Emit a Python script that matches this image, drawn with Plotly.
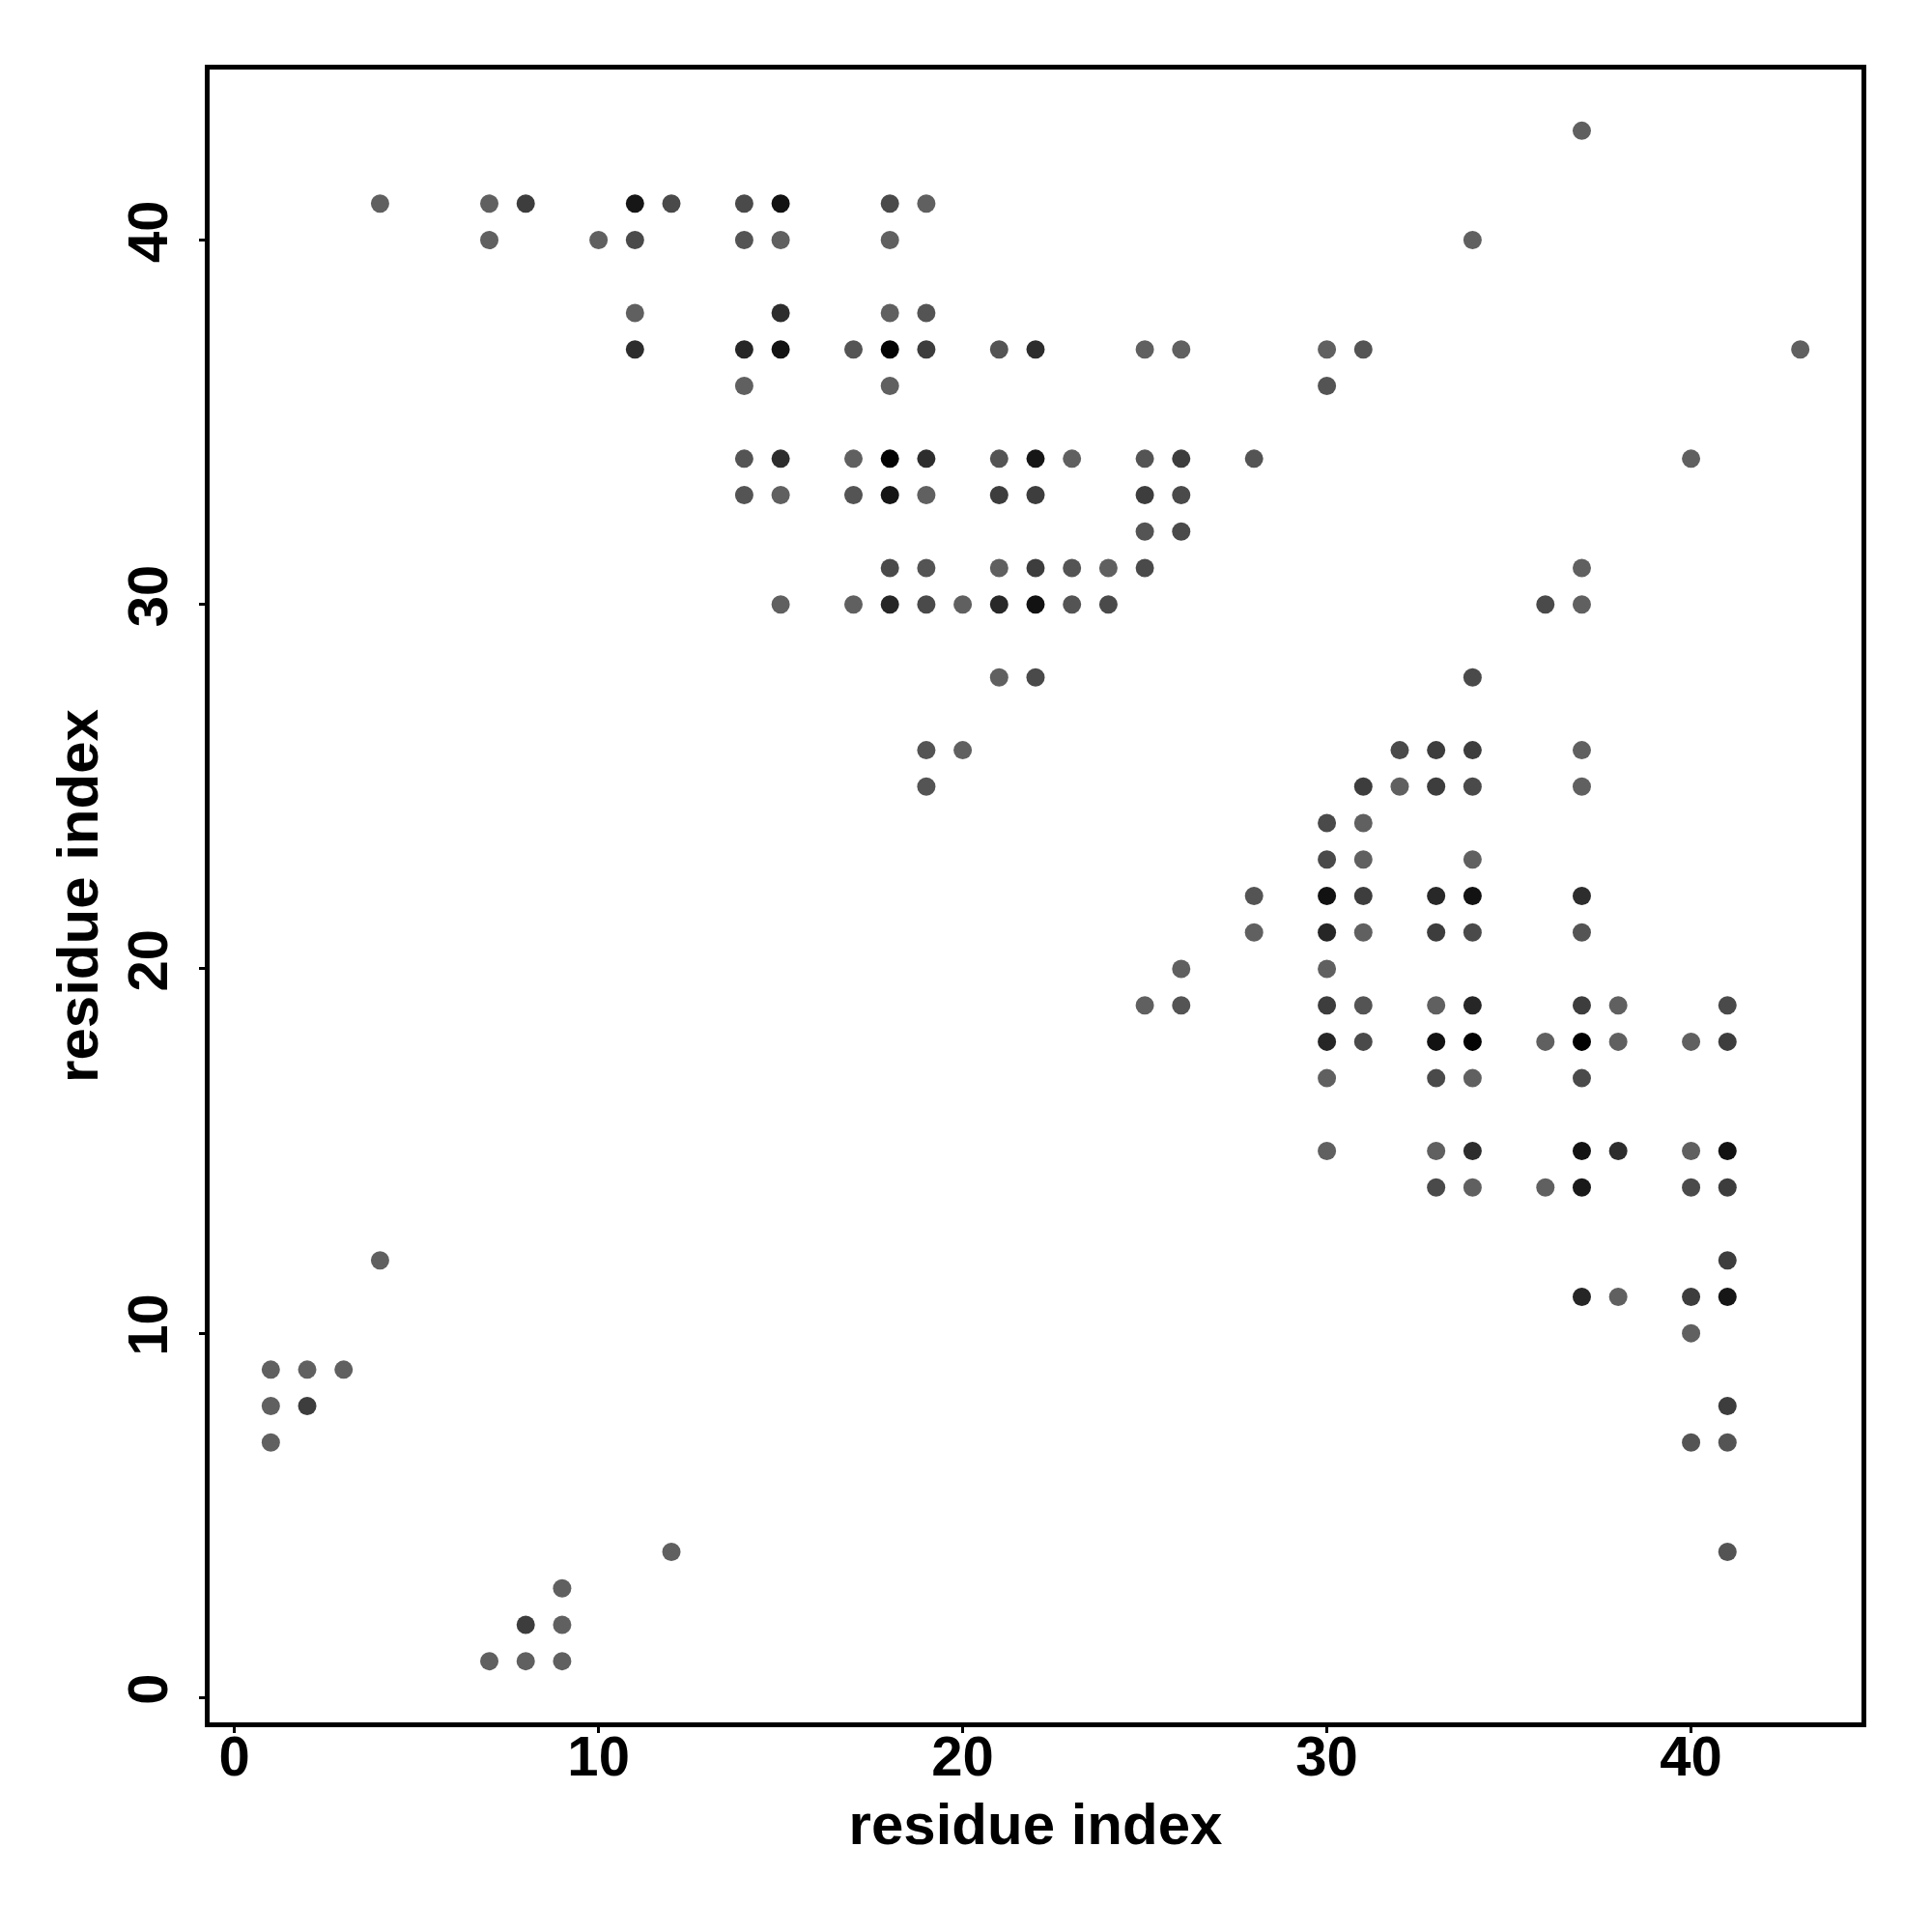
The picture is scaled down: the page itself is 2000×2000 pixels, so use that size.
import plotly.graph_objects as go

# contact map: residue i (x), residue j (y), contact score (0 = weak/grey, 1 = strong/black)
res_i = [
    37,
    4, 7, 8, 11, 12, 14, 15, 18, 19,
    7, 10, 11, 14, 15, 18, 34,
    11, 15, 18, 19,
    11, 14, 15, 17, 18, 19, 21, 22, 25, 26, 30, 31, 43,
    14, 18, 30,
    14, 15, 17, 18, 19, 21, 22, 23, 25, 26, 28, 40,
    14, 15, 17, 18, 19, 21, 22, 25, 26,
    25, 26,
    18, 19, 21, 22, 23, 24, 25, 37,
    15, 17, 18, 19, 20, 21, 22, 23, 24, 36, 37,
    21, 22, 34,
    19, 20, 32, 33, 34, 37,
    19, 31, 32, 33, 34, 37,
    30, 31,
    30, 31, 34,
    28, 30, 31, 33, 34, 37,
    28, 30, 31, 33, 34, 37,
    26, 30,
    25, 26, 30, 31, 33, 34, 37, 38, 41,
    30, 31, 33, 34, 36, 37, 38, 40, 41,
    30, 33, 34, 37,
    30, 33, 34, 37, 38, 40, 41,
    33, 34, 36, 37, 40, 41,
    4, 41,
    37, 38, 40, 41,
    40,
    1, 2, 3,
    1, 2, 41,
    1, 40, 41,
    12, 41,
    9,
    8, 9,
    7, 8, 9,
]
res_j = [
    43,
    41, 41, 41, 41, 41, 41, 41, 41, 41,
    40, 40, 40, 40, 40, 40, 40,
    38, 38, 38, 38,
    37, 37, 37, 37, 37, 37, 37, 37, 37, 37, 37, 37, 37,
    36, 36, 36,
    34, 34, 34, 34, 34, 34, 34, 34, 34, 34, 34, 34,
    33, 33, 33, 33, 33, 33, 33, 33, 33,
    32, 32,
    31, 31, 31, 31, 31, 31, 31, 31,
    30, 30, 30, 30, 30, 30, 30, 30, 30, 30, 30,
    28, 28, 28,
    26, 26, 26, 26, 26, 26,
    25, 25, 25, 25, 25, 25,
    24, 24,
    23, 23, 23,
    22, 22, 22, 22, 22, 22,
    21, 21, 21, 21, 21, 21,
    20, 20,
    19, 19, 19, 19, 19, 19, 19, 19, 19,
    18, 18, 18, 18, 18, 18, 18, 18, 18,
    17, 17, 17, 17,
    15, 15, 15, 15, 15, 15, 15,
    14, 14, 14, 14, 14, 14,
    12, 12,
    11, 11, 11, 11,
    10,
    9, 9, 9,
    8, 8, 8,
    7, 7, 7,
    4, 4,
    3,
    2, 2,
    1, 1, 1,
]
score = [
    0.03,
    0.03, 0.03, 0.38, 0.78, 0.25, 0.25, 0.82, 0.25, 0.03,
    0.03, 0.03, 0.25, 0.15, 0.03, 0.03, 0.03,
    0.03, 0.55, 0.03, 0.15,
    0.55, 0.62, 0.82, 0.15, 0.97, 0.38, 0.15, 0.55, 0.03, 0.03, 0.03, 0.15, 0.03,
    0.03, 0.03, 0.15,
    0.15, 0.55, 0.03, 0.97, 0.55, 0.15, 0.78, 0.03, 0.15, 0.38, 0.15, 0.03,
    0.15, 0.03, 0.15, 0.78, 0.03, 0.38, 0.38, 0.38, 0.25,
    0.15, 0.25,
    0.25, 0.15, 0.03, 0.38, 0.15, 0.03, 0.25, 0.03,
    0.03, 0.03, 0.62, 0.25, 0.03, 0.6, 0.82, 0.15, 0.25, 0.25, 0.03,
    0.03, 0.25, 0.25,
    0.15, 0.03, 0.25, 0.38, 0.38, 0.03,
    0.15, 0.38, 0.03, 0.38, 0.25, 0.03,
    0.25, 0.03,
    0.25, 0.03, 0.03,
    0.15, 0.82, 0.38, 0.6, 0.82, 0.55,
    0.03, 0.62, 0.03, 0.38, 0.25, 0.15,
    0.03, 0.03,
    0.03, 0.15, 0.38, 0.15, 0.03, 0.62, 0.38, 0.03, 0.25,
    0.62, 0.25, 0.82, 0.97, 0.03, 0.99, 0.03, 0.03, 0.38,
    0.03, 0.25, 0.03, 0.25,
    0.03, 0.03, 0.55, 0.82, 0.55, 0.03, 0.82,
    0.25, 0.03, 0.03, 0.75, 0.25, 0.38,
    0.03, 0.38,
    0.62, 0.03, 0.38, 0.78,
    0.03,
    0.03, 0.03, 0.03,
    0.03, 0.38, 0.38,
    0.03, 0.15, 0.15,
    0.03, 0.15,
    0.03,
    0.38, 0.03,
    0.03, 0.03, 0.03,
]

tick_vals = [0, 10, 20, 30, 40]
axis_title = "residue index"

FONT = "Liberation Sans"

fig = go.Figure(
    go.Scatter(
        x=res_i,
        y=res_j,
        mode="markers",
        marker=dict(
            size=19,
            color=score,
            cmin=0,
            cmax=1,
            colorscale=[[0, "rgb(99,99,99)"], [1, "rgb(0,0,0)"]],
            line=dict(width=0),
            showscale=False,
        ),
        showlegend=False,
    )
)

axis_common = dict(
    tickmode="array",
    tickvals=tick_vals,
    ticktext=[str(v) for v in tick_vals],
    showgrid=False,
    zeroline=False,
    showline=True,
    mirror=True,
    linecolor="black",
    linewidth=5,
    ticks="outside",
    ticklen=6,
    tickwidth=3,
    tickcolor="black",
    tickfont=dict(family=FONT, size=58, color="black", weight="bold"),
)

fig.update_layout(
    width=2000,
    height=2000,
    paper_bgcolor="white",
    plot_bgcolor="white",
    margin=dict(l=209, r=81, t=64, b=225),
    xaxis=dict(
        range=[-0.68, 44.68],
        ticklabelstandoff=-26,
        title=dict(text="<b>" + axis_title + "</b>", font=dict(family=FONT, size=60, color="black"), standoff=20),
        **axis_common,
    ),
    yaxis=dict(
        range=[-0.68, 44.68],
        tickangle=-90,
        ticklabelstandoff=10,
        title=dict(text="<b>" + axis_title + "</b>", font=dict(family=FONT, size=60, color="black"), standoff=0),
        **axis_common,
    ),
)

fig.write_html("out.html")
